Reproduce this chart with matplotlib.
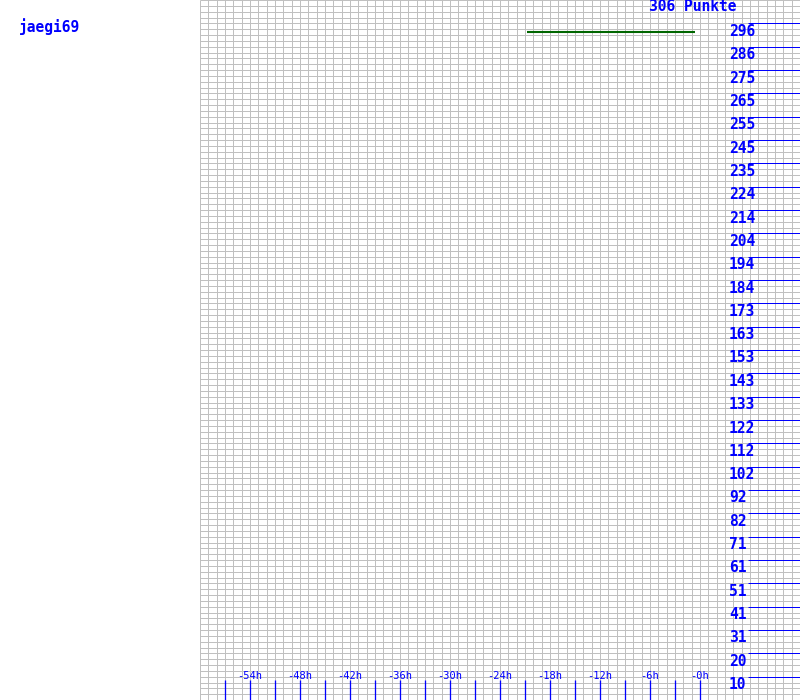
import matplotlib
matplotlib.use('Agg')
import matplotlib.pyplot as plt
import matplotlib.transforms as mtransforms
import numpy as np

# data
player = 'jaegi69'
points_total = 306
score_labels = [10, 20, 31, 41, 51, 61, 71, 82, 92, 102, 112, 122, 133, 143, 153,
                163, 173, 184, 194, 204, 214, 224, 235, 245, 255, 265, 275, 286, 296]
hour_labels = [-54, -48, -42, -36, -30, -24, -18, -12, -6, 0]
hour_ticks = [-57, -54, -51, -48, -45, -42, -39, -36, -33, -30, -27, -24, -21,
              -18, -15, -12, -9, -6, -3, 0]
line_hours = [-20.75, -0.6]
line_scores = [292, 292]

blue = '#0000ff'
grey = '#c0c0c0'
font = 'DejaVu Sans Mono'
px = 0.72  # one pixel in points at 100 dpi

fig = plt.figure(figsize=(8, 7), dpi=100)
ax = fig.add_axes([0.25, 0, 0.75, 1])
ax.set_xlim(-60, 12)
ax.set_ylim(0, points_total)
ax.axis('off')

# grid: one column per hour, four rows per score step
step = points_total / 30
ax.vlines(np.arange(-60, 13), 0, points_total, color=grey, lw=px, snap=True, zorder=1)
ax.hlines(np.arange(0, 121) * step / 4, -60, 12, color=grey, lw=px, snap=True, zorder=1)

# score scale on the right
ypos = [(i + 1) * step for i in range(len(score_labels))]
ax.hlines(ypos, 5.76, 12, color=blue, lw=px, snap=True, zorder=2)
below = mtransforms.offset_copy(ax.transData, fig=fig, x=0, y=-12.5, units='dots')
for y, lab in zip(ypos, score_labels):
    ax.text(3.48, y, str(lab), transform=below, ha='left', va='baseline',
            color=blue, family=font, fontweight='bold', fontsize=10.5, zorder=3)

# hour scale at the bottom
tick_top = 20 * points_total / 700
ax.vlines(hour_ticks, 0, tick_top, color=blue, lw=px * 1.3, snap=True, zorder=2)
for h in hour_labels:
    ax.text(h, tick_top + 0.3, '-%dh' % abs(h), ha='center', va='baseline',
            color=blue, family=font, fontsize=7.5, zorder=3)

# score line
ax.plot(line_hours, line_scores, color='#006600', lw=1.5, solid_capstyle='butt', zorder=4)

fig.text(19 / 800, 1 - 32 / 700, player, ha='left', va='baseline', color=blue,
         family=font, fontweight='bold', fontsize=10.5)
fig.text(649 / 800, 1 - 11 / 700, '%d Punkte' % points_total, ha='left', va='baseline',
         color=blue, family=font, fontweight='bold', fontsize=10.5)

fig.savefig('out.png', dpi=100)
